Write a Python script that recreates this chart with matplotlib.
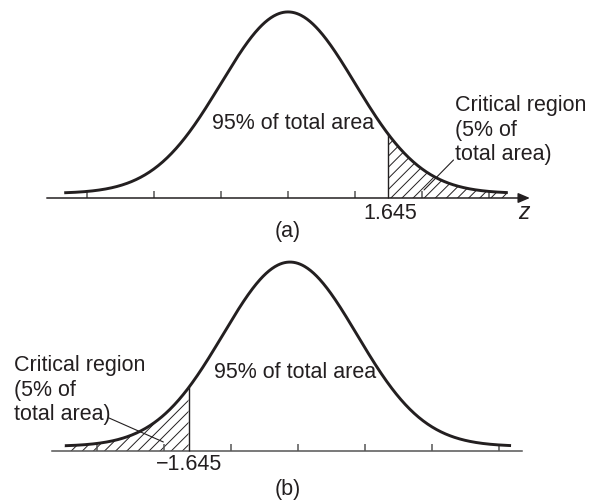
import numpy as np
import matplotlib
matplotlib.use("Agg")
import matplotlib.pyplot as plt

# chart values (horizontal unit = one standard deviation of the drawn curve)
mean_top = 0.0
mean_bottom = -0.12
sd = 1.0
cut_top = 1.49          # where the 1.645 line sits on the drawing
cut_bottom = -1.63      # where the -1.645 line sits on the drawing
panel_labels = ["(a)", "(b)"]
crit_labels = ["1.645", "\u22121.645"]
body_text = "95% of total area"
crit_text = "Critical region\n(5% of\ntotal area)"
tick_z = [-3, -2, -1, 0, 1, 2, 3]
curve_span_top = (-3.34, 3.28)
curve_span_bottom = (-3.48, 3.18)
axis_span_top = (-3.60, 3.61)
axis_span_bottom = (-3.67, 3.34)
tail_lift = 0.010

plt.rcParams["font.family"] = ["Liberation Sans", "DejaVu Sans"]
plt.rcParams["hatch.linewidth"] = 0.7

ink = "#231f20"
axis_col = "#555555"
fs = 15.5
ls = 1.2


def density(z, mu):
    return tail_lift + np.exp(-0.5 * ((z - mu) / sd) ** 2) / (sd * np.sqrt(2 * np.pi))


fig = plt.figure(figsize=(5.93, 5.02), dpi=100)
W, H = 593, 502
U = 67  # px per unit

# top panel: axis at y=199 px, zero tick at x=288 px
ax1 = fig.add_axes([0, 1 - 260 / H, 1, 260 / H])
ax1.set_xlim(-288 / U, (W - 288) / U)
ax1.set_ylim(-(260 - 199) / 455, 199 / 455)

# bottom panel: axis at y=452 px, zero tick at x=298 px
ax2 = fig.add_axes([0, 0, 1, (H - 260) / H])
ax2.set_xlim(-298 / U, (W - 298) / U)
ax2.set_ylim(-(H - 452) / 462, (452 - 260) / 462)

for ax in (ax1, ax2):
    ax.axis("off")

leader = dict(arrowstyle="-", color=ink, lw=0.8, shrinkA=0, shrinkB=0)

# ---- panel (a): upper tail ----
z = np.linspace(*curve_span_top, 600)
ax1.annotate("", xy=(axis_span_top[1], 0), xytext=(axis_span_top[0], 0),
             arrowprops=dict(arrowstyle="-|>,head_length=0.7,head_width=0.3",
                             color=ink, lw=1.1, shrinkA=0, shrinkB=0))
ax1.vlines(tick_z, 0, 0.0154, color=axis_col, lw=1.1)
zt = z[z >= cut_top]
ax1.fill_between(zt, 0, density(zt, mean_top), facecolor="none", edgecolor=ink, hatch="///", lw=0)
ax1.vlines(cut_top, 0, density(cut_top, mean_top), color=ink, lw=1.0)
ax1.plot(z, density(z, mean_top), color=ink, lw=2.1, solid_capstyle="butt")
ax1.text(-1.134, 0.167, body_text, fontsize=fs, color=ink, ha="left", va="center")
ax1.text(2.49, 0.1516, crit_text, fontsize=fs, color=ink, ha="left", va="center", linespacing=ls)
ax1.annotate("", xy=(2.03, 0.0176), xytext=(2.47, 0.0835), arrowprops=leader)
ax1.text(cut_top + 0.03, -0.031, crit_labels[0], fontsize=fs, color=ink, ha="center", va="center")
ax1.text(3.52, -0.029, "z", fontsize=fs + 1, color=ink, style="italic", ha="center", va="center")
ax1.text(0.0, -0.0725, panel_labels[0], fontsize=fs, color=ink, ha="center", va="center")

# ---- panel (b): lower tail ----
z = np.linspace(*curve_span_bottom, 600)
ax2.plot(axis_span_bottom, [0, 0], color=axis_col, lw=1.1)
ax2.vlines(tick_z, 0, 0.0152, color=axis_col, lw=1.1)
zb = z[z <= cut_bottom]
ax2.fill_between(zb, 0, density(zb, mean_bottom), facecolor="none", edgecolor=ink, hatch="///", lw=0)
ax2.vlines(cut_bottom, 0, density(cut_bottom, mean_bottom), color=ink, lw=1.0)
ax2.plot(z, density(z, mean_bottom), color=ink, lw=2.1, solid_capstyle="butt")
ax2.text(-1.25, 0.173, body_text, fontsize=fs, color=ink, ha="left", va="center")
ax2.text(-4.24, 0.134, crit_text, fontsize=fs, color=ink, ha="left", va="center", linespacing=ls)
ax2.annotate("", xy=(-2.01, 0.0195), xytext=(-2.82, 0.0714), arrowprops=leader)
ax2.text(cut_bottom, -0.028, crit_labels[1], fontsize=fs, color=ink, ha="center", va="center")
ax2.text(-0.15, -0.082, panel_labels[1], fontsize=fs, color=ink, ha="center", va="center")

fig.savefig("out.png", dpi=100)
